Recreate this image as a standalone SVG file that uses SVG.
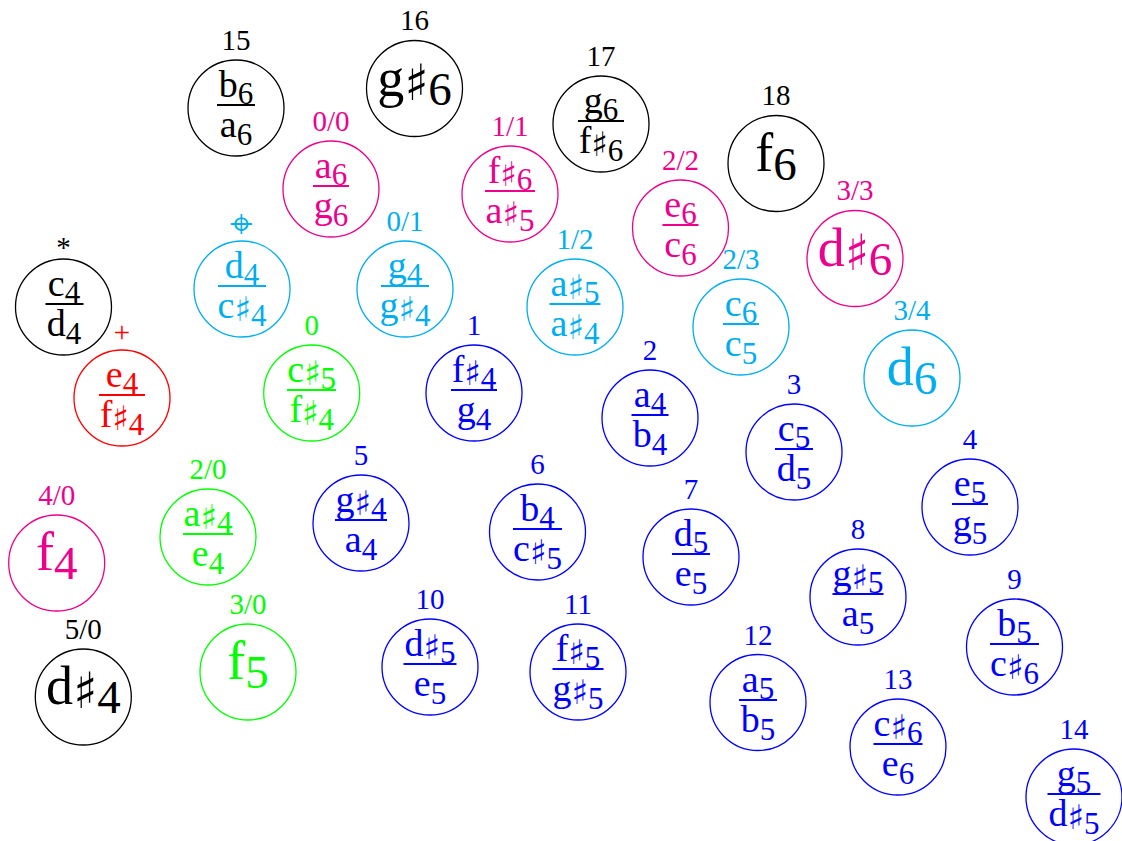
<svg xmlns="http://www.w3.org/2000/svg" width="1122" height="841" viewBox="0 0 1122 841">
<style>
.k{color:#000}.p{color:#ec008c}.c{color:#00aeef}.g{color:#00ff00}.b{color:#0000ff}.r{color:#ff0000}
circle{fill:none;stroke:currentColor;stroke-width:1.3}
line{stroke:currentColor;stroke-width:2}
text{fill:currentColor;font-family:"Liberation Serif","DejaVu Serif",serif;text-anchor:middle}
.lb{font-size:29px}
.nt{font-size:38px}
.nt .s{font-size:31px}
.sg{font-size:54px}
.sg .s{font-size:47px}
.sh{font-family:"DejaVu Sans",sans-serif;font-size:34px}
.sg .sh{font-size:50px}
.sym{font-family:"DejaVu Sans",sans-serif;font-size:40px}
</style>
<rect width="1122" height="841" fill="#fff"/>
<g id="connectors"></g>

<g id="n15" class="k"><circle cx="236" cy="108" r="48"/><text class="lb" x="236" y="50">15</text>
<text class="nt" x="236" y="97">b<tspan class="s" dy="7">6</tspan></text><line x1="217" x2="255" y1="105" y2="105"/>
<text class="nt" x="236" y="137">a<tspan class="s" dy="8">6</tspan></text></g>

<g id="n16" class="k"><circle cx="414.5" cy="88.5" r="48"/><text class="lb" x="414.5" y="30">16</text>
<text class="sg" x="414.5" y="95.5">g<tspan class="sh" dy="4">♯</tspan><tspan class="s" dy="5">6</tspan></text></g>

<g id="n17" class="k"><circle cx="601" cy="124" r="48"/><text class="lb" x="601" y="66">17</text>
<text class="nt" x="601" y="113">g<tspan class="s" dy="7">6</tspan></text><line x1="578" x2="624" y1="121" y2="121"/>
<text class="nt" x="601" y="153">f<tspan class="sh" dy="3">♯</tspan><tspan class="s" dy="5">6</tspan></text></g>

<g id="n18" class="k"><circle cx="776" cy="163.5" r="48"/><text class="lb" x="776" y="105">18</text>
<text class="sg" x="776" y="170.5">f<tspan class="s" dy="9">6</tspan></text></g>

<g id="n0-0" class="p"><circle cx="331" cy="189" r="48"/><text class="lb" x="331" y="131">0/0</text>
<text class="nt" x="331" y="178">a<tspan class="s" dy="7">6</tspan></text><line x1="313" x2="349" y1="186" y2="186"/>
<text class="nt" x="331" y="218">g<tspan class="s" dy="8">6</tspan></text></g>

<g id="n1-1" class="p"><circle cx="510" cy="194" r="48"/><text class="lb" x="510" y="136">1/1</text>
<text class="nt" x="510" y="183">f<tspan class="sh" dy="3">♯</tspan><tspan class="s" dy="4">6</tspan></text><line x1="485" x2="535" y1="191" y2="191"/>
<text class="nt" x="510" y="223">a<tspan class="sh" dy="3">♯</tspan><tspan class="s" dy="5">5</tspan></text></g>

<g id="n2-2" class="p"><circle cx="680.5" cy="228" r="48"/><text class="lb" x="680.5" y="170">2/2</text>
<text class="nt" x="680.5" y="217">e<tspan class="s" dy="7">6</tspan></text><line x1="662.5" x2="698.5" y1="225" y2="225"/>
<text class="nt" x="680.5" y="257">c<tspan class="s" dy="8">6</tspan></text></g>

<g id="n3-3" class="p"><circle cx="855" cy="258.5" r="48"/><text class="lb" x="855" y="200">3/3</text>
<text class="sg" x="855" y="265.5">d<tspan class="sh" dy="4">♯</tspan><tspan class="s" dy="5">6</tspan></text></g>

<g id="nphi" class="c"><circle cx="242" cy="289" r="48"/><text class="sym" x="241" y="237">⌖</text>
<text class="nt" x="242" y="278">d<tspan class="s" dy="7">4</tspan></text><line x1="218" x2="266" y1="286" y2="286"/>
<text class="nt" x="242" y="318">c<tspan class="sh" dy="3">♯</tspan><tspan class="s" dy="5">4</tspan></text></g>

<g id="n0-1" class="c"><circle cx="405" cy="289" r="48"/><text class="lb" x="405" y="231">0/1</text>
<text class="nt" x="405" y="278">g<tspan class="s" dy="7">4</tspan></text><line x1="381" x2="429" y1="286" y2="286"/>
<text class="nt" x="405" y="318">g<tspan class="sh" dy="3">♯</tspan><tspan class="s" dy="5">4</tspan></text></g>

<g id="n1-2" class="c"><circle cx="575" cy="307" r="48"/><text class="lb" x="575" y="249">1/2</text>
<text class="nt" x="575" y="296">a<tspan class="sh" dy="3">♯</tspan><tspan class="s" dy="4">5</tspan></text><line x1="549.5" x2="600.5" y1="304" y2="304"/>
<text class="nt" x="575" y="336">a<tspan class="sh" dy="3">♯</tspan><tspan class="s" dy="5">4</tspan></text></g>

<g id="n2-3" class="c"><circle cx="741" cy="327" r="48"/><text class="lb" x="741" y="269">2/3</text>
<text class="nt" x="741" y="316">c<tspan class="s" dy="7">6</tspan></text><line x1="723" x2="759" y1="324" y2="324"/>
<text class="nt" x="741" y="356">c<tspan class="s" dy="8">5</tspan></text></g>

<g id="n3-4" class="c"><circle cx="912" cy="378" r="48"/><text class="lb" x="912" y="320">3/4</text>
<text class="sg" x="912" y="385">d<tspan class="s" dy="9">6</tspan></text></g>

<g id="nstar" class="k"><circle cx="63.5" cy="307" r="48"/><text class="lb" x="63.5" y="257">*</text>
<text class="nt" x="64" y="296">c<tspan class="s" dy="7">4</tspan></text><line x1="45.5" x2="83.5" y1="304" y2="304"/>
<text class="nt" x="64" y="336">d<tspan class="s" dy="8">4</tspan></text></g>

<g id="nplus" class="r"><circle cx="122" cy="398" r="48"/><text class="lb" x="122" y="342">+</text>
<text class="nt" x="122" y="387">e<tspan class="s" dy="7">4</tspan></text><line x1="99" x2="145" y1="395" y2="395"/>
<text class="nt" x="122" y="427">f<tspan class="sh" dy="3">♯</tspan><tspan class="s" dy="5">4</tspan></text></g>

<g id="n0" class="g"><circle cx="311.7" cy="393" r="48"/><text class="lb" x="311.7" y="335">0</text>
<text class="nt" x="311.7" y="382">c<tspan class="sh" dy="3">♯</tspan><tspan class="s" dy="4">5</tspan></text><line x1="287" x2="336" y1="390" y2="390"/>
<text class="nt" x="311.7" y="422">f<tspan class="sh" dy="3">♯</tspan><tspan class="s" dy="5">4</tspan></text></g>

<g id="n1" class="b"><circle cx="474" cy="393" r="48"/><text class="lb" x="474" y="335">1</text>
<text class="nt" x="474" y="382">f<tspan class="sh" dy="3">♯</tspan><tspan class="s" dy="4">4</tspan></text><line x1="451" x2="497" y1="390" y2="390"/>
<text class="nt" x="474" y="422">g<tspan class="s" dy="8">4</tspan></text></g>

<g id="n2" class="b"><circle cx="650" cy="418" r="48"/><text class="lb" x="650" y="360">2</text>
<text class="nt" x="650" y="407">a<tspan class="s" dy="7">4</tspan></text><line x1="631.5" x2="668.5" y1="415" y2="415"/>
<text class="nt" x="650" y="447">b<tspan class="s" dy="8">4</tspan></text></g>

<g id="n3" class="b"><circle cx="794" cy="452" r="48"/><text class="lb" x="794" y="394">3</text>
<text class="nt" x="794" y="441">c<tspan class="s" dy="7">5</tspan></text><line x1="775" x2="813" y1="449" y2="449"/>
<text class="nt" x="794" y="481">d<tspan class="s" dy="8">5</tspan></text></g>

<g id="n4" class="b"><circle cx="970" cy="507" r="48"/><text class="lb" x="970" y="449">4</text>
<text class="nt" x="970" y="496">e<tspan class="s" dy="7">5</tspan></text><line x1="952" x2="988" y1="504" y2="504"/>
<text class="nt" x="970" y="536">g<tspan class="s" dy="8">5</tspan></text></g>

<g id="n4-0" class="p"><circle cx="56.7" cy="563" r="48"/><text class="lb" x="56.7" y="505">4/0</text>
<text class="sg" x="56.7" y="570">f<tspan class="s" dy="9">4</tspan></text></g>

<g id="n2-0" class="g"><circle cx="208" cy="537" r="48"/><text class="lb" x="208" y="479">2/0</text>
<text class="nt" x="208" y="526">a<tspan class="sh" dy="3">♯</tspan><tspan class="s" dy="4">4</tspan></text><line x1="183" x2="233" y1="534" y2="534"/>
<text class="nt" x="208" y="566">e<tspan class="s" dy="8">4</tspan></text></g>

<g id="n5" class="b"><circle cx="361" cy="523" r="48"/><text class="lb" x="361" y="465">5</text>
<text class="nt" x="361" y="512">g<tspan class="sh" dy="3">♯</tspan><tspan class="s" dy="4">4</tspan></text><line x1="335" x2="387" y1="520" y2="520"/>
<text class="nt" x="361" y="552">a<tspan class="s" dy="8">4</tspan></text></g>

<g id="n6" class="b"><circle cx="537.5" cy="532" r="48"/><text class="lb" x="537.5" y="474">6</text>
<text class="nt" x="537.5" y="521">b<tspan class="s" dy="7">4</tspan></text><line x1="513" x2="562" y1="529" y2="529"/>
<text class="nt" x="537.5" y="561">c<tspan class="sh" dy="3">♯</tspan><tspan class="s" dy="5">5</tspan></text></g>

<g id="n7" class="b"><circle cx="691" cy="557" r="48"/><text class="lb" x="691" y="499">7</text>
<text class="nt" x="691" y="546">d<tspan class="s" dy="7">5</tspan></text><line x1="672" x2="710" y1="554" y2="554"/>
<text class="nt" x="691" y="586">e<tspan class="s" dy="8">5</tspan></text></g>

<g id="n8" class="b"><circle cx="858" cy="597" r="48"/><text class="lb" x="858" y="539">8</text>
<text class="nt" x="858" y="586">g<tspan class="sh" dy="3">♯</tspan><tspan class="s" dy="4">5</tspan></text><line x1="832.5" x2="883.5" y1="594" y2="594"/>
<text class="nt" x="858" y="626">a<tspan class="s" dy="8">5</tspan></text></g>

<g id="n9" class="b"><circle cx="1014.5" cy="647" r="48"/><text class="lb" x="1014.5" y="589">9</text>
<text class="nt" x="1014.5" y="636">b<tspan class="s" dy="7">5</tspan></text><line x1="990" x2="1039" y1="644" y2="644"/>
<text class="nt" x="1014.5" y="676">c<tspan class="sh" dy="3">♯</tspan><tspan class="s" dy="5">6</tspan></text></g>

<g id="n5-0" class="k"><circle cx="83.3" cy="697" r="48"/><text class="lb" x="83.3" y="639">5/0</text>
<text class="sg" x="83.3" y="704">d<tspan class="sh" dy="4">♯</tspan><tspan class="s" dy="5">4</tspan></text></g>

<g id="n3-0" class="g"><circle cx="248" cy="672" r="48"/><text class="lb" x="248" y="614">3/0</text>
<text class="sg" x="248" y="679">f<tspan class="s" dy="9">5</tspan></text></g>

<g id="n10" class="b"><circle cx="430" cy="667" r="48"/><text class="lb" x="430" y="609">10</text>
<text class="nt" x="430" y="656">d<tspan class="sh" dy="3">♯</tspan><tspan class="s" dy="4">5</tspan></text><line x1="403.5" x2="456.5" y1="664" y2="664"/>
<text class="nt" x="430" y="696">e<tspan class="s" dy="8">5</tspan></text></g>

<g id="n11" class="b"><circle cx="578" cy="672" r="48"/><text class="lb" x="578" y="614">11</text>
<text class="nt" x="578" y="661">f<tspan class="sh" dy="3">♯</tspan><tspan class="s" dy="4">5</tspan></text><line x1="552.5" x2="603.5" y1="669" y2="669"/>
<text class="nt" x="578" y="701">g<tspan class="sh" dy="3">♯</tspan><tspan class="s" dy="5">5</tspan></text></g>

<g id="n12" class="b"><circle cx="758" cy="702.5" r="48"/><text class="lb" x="758" y="645">12</text>
<text class="nt" x="758" y="692">a<tspan class="s" dy="7">5</tspan></text><line x1="739" x2="777" y1="700" y2="700"/>
<text class="nt" x="758" y="732">b<tspan class="s" dy="8">5</tspan></text></g>

<g id="n13" class="b"><circle cx="898" cy="747" r="48"/><text class="lb" x="898" y="689">13</text>
<text class="nt" x="898" y="736">c<tspan class="sh" dy="3">♯</tspan><tspan class="s" dy="4">6</tspan></text><line x1="873.5" x2="922.5" y1="744" y2="744"/>
<text class="nt" x="898" y="776">e<tspan class="s" dy="8">6</tspan></text></g>

<g id="n14" class="b"><circle cx="1074" cy="797" r="48"/><text class="lb" x="1074" y="739">14</text>
<text class="nt" x="1074" y="786">g<tspan class="s" dy="7">5</tspan></text><line x1="1047.5" x2="1100.5" y1="794" y2="794"/>
<text class="nt" x="1074" y="826">d<tspan class="sh" dy="3">♯</tspan><tspan class="s" dy="5">5</tspan></text></g>
</svg>
